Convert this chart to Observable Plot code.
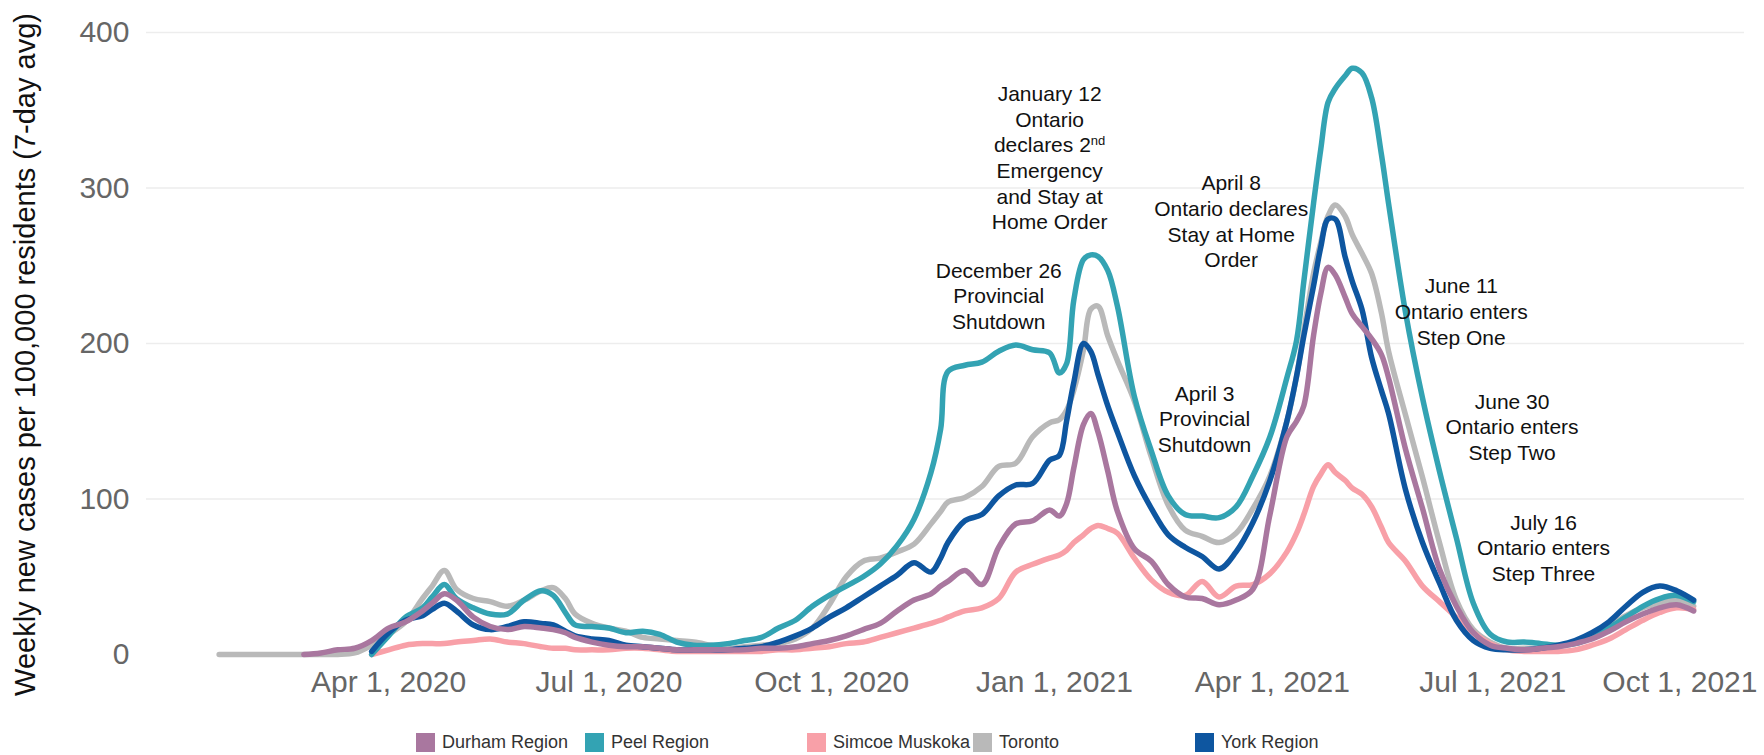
<!DOCTYPE html>
<html>
<head>
<meta charset="utf-8">
<script src="https://cdn.jsdelivr.net/npm/d3@7"></script>
<script src="https://cdn.jsdelivr.net/npm/@observablehq/plot@0.6"></script>
<style>
  html, body { margin: 0; padding: 0; background: #fff; }
  #wrap { position: relative; width: 1764px; height: 755px; font-family: "Liberation Sans", Arial, sans-serif; }
  .leg { position: absolute; display: flex; align-items: center; font-size: 18px; color: #333; white-space: nowrap; }
  .sw { width: 19px; height: 19px; margin-right: 7px; }
</style>
</head>
<body>
<div id="wrap"></div>
<script>
// ---- data ----
const dates = [
  "2020-01-22","2020-01-29","2020-02-05","2020-02-12","2020-02-19","2020-02-26","2020-03-04","2020-03-11","2020-03-18","2020-03-25",
  "2020-04-01","2020-04-08","2020-04-15","2020-04-19","2020-04-24","2020-04-29","2020-05-06","2020-05-13","2020-05-20","2020-05-27",
  "2020-06-03","2020-06-08","2020-06-13","2020-06-17","2020-06-24","2020-07-01","2020-07-08","2020-07-15","2020-07-22","2020-07-29",
  "2020-08-05","2020-08-12","2020-08-19","2020-08-26","2020-09-02","2020-09-09","2020-09-16","2020-09-23","2020-09-30","2020-10-07",
  "2020-10-14","2020-10-21","2020-10-28","2020-11-04","2020-11-11","2020-11-15","2020-11-18","2020-11-25","2020-12-02","2020-12-09",
  "2020-12-16","2020-12-23","2020-12-30","2021-01-03","2021-01-06","2021-01-09","2021-01-13","2021-01-16","2021-01-19","2021-01-23",
  "2021-01-27","2021-02-03","2021-02-10","2021-02-17","2021-02-24","2021-03-03","2021-03-10","2021-03-17","2021-03-24","2021-03-31",
  "2021-04-07","2021-04-11","2021-04-14","2021-04-18","2021-04-21","2021-04-24","2021-04-27","2021-05-01","2021-05-04","2021-05-08",
  "2021-05-12","2021-05-16","2021-05-19","2021-05-26","2021-06-02","2021-06-09","2021-06-16","2021-06-23","2021-06-30","2021-07-07",
  "2021-07-14","2021-07-21","2021-07-28","2021-08-04","2021-08-11","2021-08-18","2021-08-25","2021-09-01","2021-09-08","2021-09-15","2021-09-22"
];

const toronto = [
  0,0,0,0,0,0,0,0,1,6,
  13,21,36,44,54,42,36,34,31,35,
  41,43,36,26,20,17,15,11,10,9,
  8,6,4,5,6,7,10,17,32,50,
  60,62,66,71,84,92,98,101,108,121,
  123,140,149,151,157,170,196,222,224,205,
  189,163,127,96,80,76,72,78,94,115,
  150,179,208,245,265,282,289,282,270,258,
  245,220,195,154,114,72,35,16,8,4,
  4,4,5,8,12,18,25,30,33,35,31
];
const peel = [
  null,null,null,null,null,null,null,null,null,0,
  12,24,30,37,45,36,30,26,26,35,
  41,38,27,19,18,17,14,15,13,8,
  6,6,7,9,11,17,22,31,38,44,
  50,58,70,87,117,145,182,186,188,195,
  199,196,194,181,187,228,254,257,256,247,
  224,166,131,102,90,89,88,95,115,140,
  178,202,240,290,325,355,364,372,377,374,
  358,322,290,220,165,118,75,33,13,8,
  8,7,6,7,11,17,24,31,36,38,34
];
const york = [
  null,null,null,null,null,null,null,null,null,2,
  14,22,25,29,33,28,19,16,18,21,
  20,19,15,12,10,9,6,5,4,3,
  3,3,3,4,5,8,12,17,24,30,
  37,44,51,59,53,62,72,86,90,102,
  109,110,125,128,150,175,200,195,180,160,
  143,115,94,77,69,63,55,66,85,112,
  150,179,205,237,262,280,280,256,240,222,
  191,170,155,106,72,46,22,9,4,3,
  3,4,6,9,14,21,31,40,44,41,35
];
const durham = [
  null,null,null,null,null,0,1,3,4,9,
  17,21,28,33,39,35,24,18,16,18,
  17,16,14,11,8,6,5,5,4,3,
  3,3,3,3,4,4,5,7,9,12,
  16,20,28,35,39,44,47,54,45,69,
  84,86,93,89,97,120,148,155,143,118,
  92,68,60,45,37,36,32,35,42,90,
  140,150,160,205,232,249,244,230,219,211,
  203,193,178,132,94,55,31,14,6,4,
  3,4,5,7,10,15,21,26,30,32,28
];
const simcoe = [
  null,null,null,null,null,null,null,null,null,0,
  3,6,7,7,7,8,9,10,8,7,
  5,4,4,3,3,3,4,4,3,2,
  2,2,2,2,2,3,3,4,5,7,
  8,11,14,17,20,22,24,28,30,36,
  53,58,62,64,67,72,77,81,83,81,
  78,62,48,40,38,47,37,44,45,52,
  66,78,90,108,116,122,117,112,107,103,
  95,82,72,60,44,34,24,14,7,3,
  2,2,2,3,6,10,16,22,27,30,29
];

const seriesNames = ["Durham Region", "Peel Region", "Simcoe Muskoka", "Toronto", "York Region"];
const seriesValues = [durham, peel, simcoe, toronto, york];
const seriesColors = ["#a9779f", "#33a3b3", "#f8a0a8", "#b9b9b9", "#0e56a0"];
const drawOrder = ["Toronto", "Simcoe Muskoka", "Peel Region", "York Region", "Durham Region"];

const yTicks = [0, 100, 200, 300, 400];
const xTicks = ["2020-04-01", "2020-07-01", "2020-10-01", "2021-01-01", "2021-04-01", "2021-07-01", "2021-10-01"];
const xDomain = ["2019-12-23", "2021-10-13"];

const noteDates = ["2020-12-30", "2020-12-09", "2021-03-15", "2021-03-04", "2021-06-18", "2021-07-09", "2021-07-22"];
const noteValues = [320, 231, 279, 152, 221, 147, 69];
const noteTexts = [
  "January 12\nOntario\ndeclares 2nd\nEmergency\nand Stay at\nHome Order",
  "December 26\nProvincial\nShutdown",
  "April 8\nOntario declares\nStay at Home\nOrder",
  "April 3\nProvincial\nShutdown",
  "June 11\nOntario enters\nStep One",
  "June 30\nOntario enters\nStep Two",
  "July 16\nOntario enters\nStep Three"
];
const yTitle = "Weekly new cases per 100,000 residents (7-day avg)";

// ---- build ----
const parse = d3.utcParse("%Y-%m-%d");
const fmt = d3.utcFormat("%b %-d, %Y");
const rows = [];
seriesNames.forEach((name, i) => {
  seriesValues[i].forEach((v, j) => rows.push({series: name, date: parse(dates[j]), value: v}));
});
const notes = noteDates.map((d, i) => ({date: parse(d), value: noteValues[i], text: noteTexts[i]}));
const tickDates = xTicks.map(parse);
const colorOf = Object.fromEntries(seriesNames.map((n, i) => [n, seriesColors[i]]));

const lineMarks = drawOrder.map(name => Plot.line(rows.filter(r => r.series === name), {
  x: "date", y: "value", stroke: colorOf[name], strokeWidth: 5.5,
  curve: "catmull-rom", strokeLinejoin: "round", strokeLinecap: "round"
}));

const chart = Plot.plot({
  width: 1764,
  height: 715,
  marginLeft: 146,
  marginRight: 20,
  marginTop: 32,
  marginBottom: 61,
  style: {fontFamily: "'Liberation Sans', Arial, sans-serif", background: "#fff"},
  x: {type: "utc", domain: xDomain.map(parse)},
  y: {domain: [0, 400]},
  marks: [
    Plot.ruleY(yTicks.filter(v => v > 0), {stroke: "#ededed", strokeWidth: 1.5}),
    Plot.axisY({ticks: yTicks, tickSize: 0, tickPadding: 17, fontSize: 30, fill: "#666", label: null}),
    Plot.axisX({ticks: tickDates.slice(0, -1), tickFormat: fmt, tickSize: 0, tickPadding: 16, fontSize: 30, fill: "#666", label: null}),
    Plot.text(tickDates.slice(-1), {x: d => d, text: d => fmt(d), frameAnchor: "bottom", lineAnchor: "top", textAnchor: "end", dx: 42, dy: 16, fontSize: 30, fill: "#666"}),
    Plot.text([yTitle], {frameAnchor: "left", textAnchor: "middle", rotate: -90, dx: -121, dy: 11, fontSize: 29, fill: "#111"}),
    ...lineMarks,
    Plot.text(notes, {x: "date", y: "value", text: "text", fontSize: 21, lineHeight: 1.22, fill: "#111", lineAnchor: "middle", textAnchor: "middle"})
  ]
});

// superscript "nd"
d3.select(chart).selectAll("tspan").each(function() {
  if (this.textContent === "declares 2nd") {
    const t = d3.select(this);
    t.text("declares 2");
    t.append("tspan").attr("baseline-shift", "super").attr("font-size", "0.62em").text("nd");
  }
});

const wrap = document.getElementById("wrap");
wrap.appendChild(chart);

// legend
const legendLeft = [416, 585, 807, 973, 1195];
seriesNames.forEach((name, i) => {
  const item = document.createElement("div");
  item.className = "leg";
  item.style.left = legendLeft[i] + "px";
  item.style.top = "732px";
  const sw = document.createElement("div");
  sw.className = "sw";
  sw.style.background = seriesColors[i];
  const label = document.createElement("span");
  label.textContent = name;
  item.appendChild(sw);
  item.appendChild(label);
  wrap.appendChild(item);
});
</script>
</body>
</html>
